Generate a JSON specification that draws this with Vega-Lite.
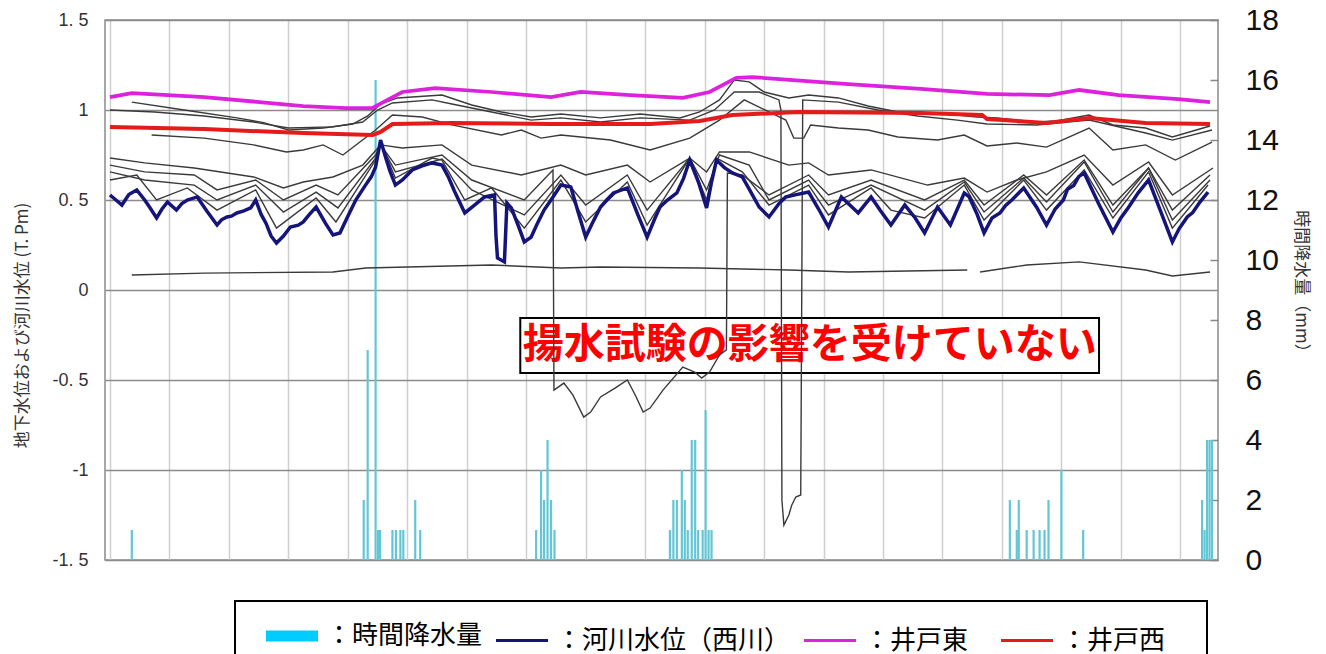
{
  "$schema": "https://vega.github.io/schema/vega-lite/v6.json",
  "width": 1113,
  "height": 540,
  "autosize": {"type": "none"},
  "padding": {"left": 105, "top": 20, "right": 108, "bottom": 94},
  "background": "white",
  "config": {"view": {"stroke": "#8a8a8a", "strokeWidth": 1.5}, "font": "Noto Sans CJK JP"},
  "datasets": {
    "rain": [
      {"t": 8.8, "mm": 1},
      {"t": 102.4, "mm": 2}, {"t": 104, "mm": 7}, {"t": 107.2, "mm": 16}, {"t": 108.2, "mm": 1}, {"t": 109, "mm": 1},
      {"t": 114, "mm": 1}, {"t": 115.4, "mm": 1}, {"t": 117.2, "mm": 1}, {"t": 118.4, "mm": 1}, {"t": 123.2, "mm": 2}, {"t": 125.2, "mm": 1},
      {"t": 172, "mm": 1}, {"t": 174, "mm": 3}, {"t": 175.2, "mm": 2}, {"t": 176.6, "mm": 4}, {"t": 178, "mm": 2}, {"t": 179.4, "mm": 1},
      {"t": 226, "mm": 1}, {"t": 227.4, "mm": 2}, {"t": 228.8, "mm": 2}, {"t": 230.8, "mm": 3}, {"t": 232, "mm": 2}, {"t": 233.2, "mm": 1},
      {"t": 234.8, "mm": 4}, {"t": 236.2, "mm": 4}, {"t": 237.4, "mm": 1}, {"t": 239.2, "mm": 1}, {"t": 240.4, "mm": 5}, {"t": 241.6, "mm": 1}, {"t": 242.8, "mm": 1},
      {"t": 363.2, "mm": 2}, {"t": 366, "mm": 1}, {"t": 366.8, "mm": 2}, {"t": 370, "mm": 1}, {"t": 372.8, "mm": 1}, {"t": 375.2, "mm": 1},
      {"t": 377.2, "mm": 1}, {"t": 378.8, "mm": 2}, {"t": 384, "mm": 3}, {"t": 392.8, "mm": 1},
      {"t": 440.8, "mm": 2}, {"t": 441.8, "mm": 1}, {"t": 442.8, "mm": 4}, {"t": 443.8, "mm": 4}, {"t": 444.8, "mm": 4}
    ],
    "main": [
      {"s": "河川水位（西川）", "t": 0, "v": 0.528}, {"s": "河川水位（西川）", "t": 2.4, "v": 0.5}, {"s": "河川水位（西川）", "t": 4.8, "v": 0.472}, {"s": "河川水位（西川）", "t": 7.6, "v": 0.53}, {"s": "河川水位（西川）", "t": 10.8, "v": 0.556},
      {"s": "河川水位（西川）", "t": 14, "v": 0.5}, {"s": "河川水位（西川）", "t": 16, "v": 0.46}, {"s": "河川水位（西川）", "t": 18.8, "v": 0.4}, {"s": "河川水位（西川）", "t": 21, "v": 0.45}, {"s": "河川水位（西川）", "t": 23.2, "v": 0.489},
      {"s": "河川水位（西川）", "t": 26.8, "v": 0.444}, {"s": "河川水位（西川）", "t": 29, "v": 0.48}, {"s": "河川水位（西川）", "t": 31.2, "v": 0.5}, {"s": "河川水位（西川）", "t": 35.2, "v": 0.517},
      {"s": "河川水位（西川）", "t": 39, "v": 0.44}, {"s": "河川水位（西川）", "t": 43.2, "v": 0.361}, {"s": "河川水位（西川）", "t": 45, "v": 0.39}, {"s": "河川水位（西川）", "t": 47.2, "v": 0.406},
      {"s": "河川水位（西川）", "t": 49, "v": 0.41}, {"s": "河川水位（西川）", "t": 51.2, "v": 0.428}, {"s": "河川水位（西川）", "t": 54, "v": 0.44}, {"s": "河川水位（西川）", "t": 56.8, "v": 0.456},
      {"s": "河川水位（西川）", "t": 58.8, "v": 0.5}, {"s": "河川水位（西川）", "t": 61, "v": 0.42}, {"s": "河川水位（西川）", "t": 63, "v": 0.37}, {"s": "河川水位（西川）", "t": 65, "v": 0.3}, {"s": "河川水位（西川）", "t": 67.2, "v": 0.261},
      {"s": "河川水位（西川）", "t": 70, "v": 0.3}, {"s": "河川水位（西川）", "t": 72.8, "v": 0.35}, {"s": "河川水位（西川）", "t": 76, "v": 0.36}, {"s": "河川水位（西川）", "t": 78, "v": 0.378},
      {"s": "河川水位（西川）", "t": 80.5, "v": 0.42}, {"s": "河川水位（西川）", "t": 83.2, "v": 0.461}, {"s": "河川水位（西川）", "t": 87, "v": 0.37}, {"s": "河川水位（西川）", "t": 90, "v": 0.306},
      {"s": "河川水位（西川）", "t": 92.8, "v": 0.317}, {"s": "河川水位（西川）", "t": 96, "v": 0.41}, {"s": "河川水位（西川）", "t": 99.2, "v": 0.5},
      {"s": "河川水位（西川）", "t": 103, "v": 0.58}, {"s": "河川水位（西川）", "t": 105.5, "v": 0.63}, {"s": "河川水位（西川）", "t": 107.2, "v": 0.683}, {"s": "河川水位（西川）", "t": 109.2, "v": 0.833},
      {"s": "河川水位（西川）", "t": 111.2, "v": 0.739}, {"s": "河川水位（西川）", "t": 113, "v": 0.66}, {"s": "河川水位（西川）", "t": 115.2, "v": 0.583}, {"s": "河川水位（西川）", "t": 118, "v": 0.611},
      {"s": "河川水位（西川）", "t": 122, "v": 0.667}, {"s": "河川水位（西川）", "t": 126, "v": 0.69}, {"s": "河川水位（西川）", "t": 130, "v": 0.706},
      {"s": "河川水位（西川）", "t": 134, "v": 0.694}, {"s": "河川水位（西川）", "t": 136.5, "v": 0.63}, {"s": "河川水位（西川）", "t": 139, "v": 0.55}, {"s": "河川水位（西川）", "t": 143.2, "v": 0.428},
      {"s": "河川水位（西川）", "t": 147, "v": 0.47}, {"s": "河川水位（西川）", "t": 151.2, "v": 0.517}, {"s": "河川水位（西川）", "t": 155.2, "v": 0.528},
      {"s": "河川水位（西川）", "t": 155.8, "v": 0.3}, {"s": "河川水位（西川）", "t": 156.4, "v": 0.178}, {"s": "河川水位（西川）", "t": 159.2, "v": 0.156},
      {"s": "河川水位（西川）", "t": 159.8, "v": 0.35}, {"s": "河川水位（西川）", "t": 160.2, "v": 0.483}, {"s": "河川水位（西川）", "t": 162, "v": 0.456},
      {"s": "河川水位（西川）", "t": 165, "v": 0.35}, {"s": "河川水位（西川）", "t": 167.2, "v": 0.267}, {"s": "河川水位（西川）", "t": 170, "v": 0.294},
      {"s": "河川水位（西川）", "t": 172.5, "v": 0.37}, {"s": "河川水位（西川）", "t": 175.2, "v": 0.444}, {"s": "河川水位（西川）", "t": 178, "v": 0.5}, {"s": "河川水位（西川）", "t": 182, "v": 0.583},
      {"s": "河川水位（西川）", "t": 186, "v": 0.572}, {"s": "河川水位（西川）", "t": 189, "v": 0.43}, {"s": "河川水位（西川）", "t": 192, "v": 0.294},
      {"s": "河川水位（西川）", "t": 195, "v": 0.38}, {"s": "河川水位（西川）", "t": 198, "v": 0.461}, {"s": "河川水位（西川）", "t": 200.5, "v": 0.5}, {"s": "河川水位（西川）", "t": 203.2, "v": 0.539},
      {"s": "河川水位（西川）", "t": 208.8, "v": 0.567}, {"s": "河川水位（西川）", "t": 213, "v": 0.42}, {"s": "河川水位（西川）", "t": 216.8, "v": 0.294},
      {"s": "河川水位（西川）", "t": 220, "v": 0.4}, {"s": "河川水位（西川）", "t": 222, "v": 0.461}, {"s": "河川水位（西川）", "t": 225, "v": 0.5},
      {"s": "河川水位（西川）", "t": 228.8, "v": 0.539}, {"s": "河川水位（西川）", "t": 231.5, "v": 0.62}, {"s": "河川水位（西川）", "t": 234, "v": 0.722}, {"s": "河川水位（西川）", "t": 237.5, "v": 0.6},
      {"s": "河川水位（西川）", "t": 240.8, "v": 0.456}, {"s": "河川水位（西川）", "t": 242.8, "v": 0.6}, {"s": "河川水位（西川）", "t": 244.8, "v": 0.722}, {"s": "河川水位（西川）", "t": 248, "v": 0.68}, {"s": "河川水位（西川）", "t": 251.2, "v": 0.65},
      {"s": "河川水位（西川）", "t": 255.2, "v": 0.628}, {"s": "河川水位（西川）", "t": 258, "v": 0.56}, {"s": "河川水位（西川）", "t": 262, "v": 0.461},
      {"s": "河川水位（西川）", "t": 266, "v": 0.406}, {"s": "河川水位（西川）", "t": 270, "v": 0.48}, {"s": "河川水位（西川）", "t": 272.8, "v": 0.517},
      {"s": "河川水位（西川）", "t": 277, "v": 0.53}, {"s": "河川水位（西川）", "t": 282, "v": 0.544}, {"s": "河川水位（西川）", "t": 286, "v": 0.45}, {"s": "河川水位（西川）", "t": 290, "v": 0.35},
      {"s": "河川水位（西川）", "t": 295.2, "v": 0.517}, {"s": "河川水位（西川）", "t": 302, "v": 0.428}, {"s": "河川水位（西川）", "t": 307.2, "v": 0.517},
      {"s": "河川水位（西川）", "t": 311, "v": 0.44}, {"s": "河川水位（西川）", "t": 315.2, "v": 0.361}, {"s": "河川水位（西川）", "t": 320.8, "v": 0.472},
      {"s": "河川水位（西川）", "t": 325, "v": 0.4}, {"s": "河川水位（西川）", "t": 328.8, "v": 0.317}, {"s": "河川水位（西川）", "t": 334, "v": 0.461},
      {"s": "河川水位（西川）", "t": 339.2, "v": 0.361}, {"s": "河川水位（西川）", "t": 344.8, "v": 0.539}, {"s": "河川水位（西川）", "t": 346.8, "v": 0.517},
      {"s": "河川水位（西川）", "t": 350, "v": 0.42}, {"s": "河川水位（西川）", "t": 352.8, "v": 0.317}, {"s": "河川水位（西川）", "t": 356, "v": 0.4}, {"s": "河川水位（西川）", "t": 359.2, "v": 0.428},
      {"s": "河川水位（西川）", "t": 361.5, "v": 0.47}, {"s": "河川水位（西川）", "t": 364, "v": 0.5}, {"s": "河川水位（西川）", "t": 368.8, "v": 0.567}, {"s": "河川水位（西川）", "t": 374, "v": 0.46},
      {"s": "河川水位（西川）", "t": 378, "v": 0.361}, {"s": "河川水位（西川）", "t": 381.5, "v": 0.45}, {"s": "河川水位（西川）", "t": 384.8, "v": 0.5}, {"s": "河川水位（西川）", "t": 386.5, "v": 0.56}, {"s": "河川水位（西川）", "t": 389, "v": 0.58},
      {"s": "河川水位（西川）", "t": 391, "v": 0.63}, {"s": "河川水位（西川）", "t": 393.2, "v": 0.65}, {"s": "河川水位（西川）", "t": 399, "v": 0.48}, {"s": "河川水位（西川）", "t": 404.8, "v": 0.322},
      {"s": "河川水位（西川）", "t": 408, "v": 0.4}, {"s": "河川水位（西川）", "t": 411.2, "v": 0.461}, {"s": "河川水位（西川）", "t": 415, "v": 0.54}, {"s": "河川水位（西川）", "t": 419.2, "v": 0.611},
      {"s": "河川水位（西川）", "t": 424, "v": 0.44}, {"s": "河川水位（西川）", "t": 428.8, "v": 0.267}, {"s": "河川水位（西川）", "t": 431.5, "v": 0.34}, {"s": "河川水位（西川）", "t": 434.8, "v": 0.406},
      {"s": "河川水位（西川）", "t": 437, "v": 0.43}, {"s": "河川水位（西川）", "t": 440, "v": 0.49}, {"s": "河川水位（西川）", "t": 443.2, "v": 0.544},

      {"s": "井戸東", "t": 0, "v": 1.072}, {"s": "井戸東", "t": 8.8, "v": 1.094}, {"s": "井戸東", "t": 38, "v": 1.072},
      {"s": "井戸東", "t": 78, "v": 1.022}, {"s": "井戸東", "t": 95.2, "v": 1.011}, {"s": "井戸東", "t": 106, "v": 1.011},
      {"s": "井戸東", "t": 112, "v": 1.056}, {"s": "井戸東", "t": 118, "v": 1.1}, {"s": "井戸東", "t": 131.2, "v": 1.122},
      {"s": "井戸東", "t": 154, "v": 1.1}, {"s": "井戸東", "t": 178, "v": 1.072}, {"s": "井戸東", "t": 190, "v": 1.1},
      {"s": "井戸東", "t": 210, "v": 1.083}, {"s": "井戸東", "t": 231.2, "v": 1.067}, {"s": "井戸東", "t": 242, "v": 1.1},
      {"s": "井戸東", "t": 252.8, "v": 1.178}, {"s": "井戸東", "t": 259.2, "v": 1.183}, {"s": "井戸東", "t": 298, "v": 1.144},
      {"s": "井戸東", "t": 327.2, "v": 1.117}, {"s": "井戸東", "t": 354, "v": 1.089}, {"s": "井戸東", "t": 379.2, "v": 1.083},
      {"s": "井戸東", "t": 391.2, "v": 1.111}, {"s": "井戸東", "t": 407.2, "v": 1.083}, {"s": "井戸東", "t": 431.2, "v": 1.061},
      {"s": "井戸東", "t": 444, "v": 1.044},

      {"s": "井戸西", "t": 0, "v": 0.906}, {"s": "井戸西", "t": 38, "v": 0.894}, {"s": "井戸西", "t": 78, "v": 0.872},
      {"s": "井戸西", "t": 106, "v": 0.861}, {"s": "井戸西", "t": 109.2, "v": 0.878}, {"s": "井戸西", "t": 114, "v": 0.922},
      {"s": "井戸西", "t": 138, "v": 0.928}, {"s": "井戸西", "t": 178, "v": 0.922}, {"s": "井戸西", "t": 218, "v": 0.922},
      {"s": "井戸西", "t": 238, "v": 0.939}, {"s": "井戸西", "t": 251.2, "v": 0.972}, {"s": "井戸西", "t": 278, "v": 0.989},
      {"s": "井戸西", "t": 327.2, "v": 0.983}, {"s": "井戸西", "t": 352, "v": 0.972}, {"s": "井戸西", "t": 354, "v": 0.95},
      {"s": "井戸西", "t": 378, "v": 0.928}, {"s": "井戸西", "t": 395.2, "v": 0.956}, {"s": "井戸西", "t": 418, "v": 0.928},
      {"s": "井戸西", "t": 444, "v": 0.922}
    ],
    "wells": [
      {"id": "U1", "t": 8.8, "v": 1.044}, {"id": "U1", "t": 30, "v": 1.0}, {"id": "U1", "t": 51.2, "v": 0.956}, {"id": "U1", "t": 62, "v": 0.93}, {"id": "U1", "t": 72, "v": 0.889},
      {"id": "U1", "t": 86, "v": 0.9}, {"id": "U1", "t": 98, "v": 0.922}, {"id": "U1", "t": 104, "v": 0.967}, {"id": "U1", "t": 109.2, "v": 1.033},
      {"id": "U1", "t": 116, "v": 1.067}, {"id": "U1", "t": 134, "v": 1.083}, {"id": "U1", "t": 146, "v": 1.028}, {"id": "U1", "t": 158, "v": 0.989},
      {"id": "U1", "t": 170, "v": 0.961}, {"id": "U1", "t": 182, "v": 0.978}, {"id": "U1", "t": 198, "v": 0.956}, {"id": "U1", "t": 214, "v": 0.978},
      {"id": "U1", "t": 230, "v": 0.956}, {"id": "U1", "t": 238, "v": 0.989}, {"id": "U1", "t": 246, "v": 1.056}, {"id": "U1", "t": 252, "v": 1.167},
      {"id": "U1", "t": 258, "v": 1.156}, {"id": "U1", "t": 264, "v": 1.1}, {"id": "U1", "t": 274, "v": 1.067}, {"id": "U1", "t": 282, "v": 1.083},
      {"id": "U1", "t": 294, "v": 1.067}, {"id": "U1", "t": 306, "v": 1.022}, {"id": "U1", "t": 318, "v": 0.989}, {"id": "U1", "t": 334, "v": 0.983},
      {"id": "U1", "t": 350, "v": 0.961}, {"id": "U1", "t": 358, "v": 0.956}, {"id": "U1", "t": 374, "v": 0.933}, {"id": "U1", "t": 382, "v": 0.939},
      {"id": "U1", "t": 395.2, "v": 0.972}, {"id": "U1", "t": 404.8, "v": 0.917}, {"id": "U1", "t": 418, "v": 0.9}, {"id": "U1", "t": 428.8, "v": 0.85},
      {"id": "U1", "t": 444, "v": 0.911},

      {"id": "U2", "t": 0, "v": 1.0}, {"id": "U2", "t": 18, "v": 0.989}, {"id": "U2", "t": 38, "v": 0.967}, {"id": "U2", "t": 58, "v": 0.933},
      {"id": "U2", "t": 72, "v": 0.9}, {"id": "U2", "t": 90, "v": 0.906}, {"id": "U2", "t": 102, "v": 0.933}, {"id": "U2", "t": 108, "v": 1.0},
      {"id": "U2", "t": 114, "v": 1.039}, {"id": "U2", "t": 130, "v": 1.056}, {"id": "U2", "t": 138, "v": 1.033}, {"id": "U2", "t": 154, "v": 0.989},
      {"id": "U2", "t": 170, "v": 0.944}, {"id": "U2", "t": 182, "v": 0.956}, {"id": "U2", "t": 198, "v": 0.933}, {"id": "U2", "t": 214, "v": 0.956},
      {"id": "U2", "t": 234, "v": 0.944}, {"id": "U2", "t": 244, "v": 1.0}, {"id": "U2", "t": 252, "v": 1.1}, {"id": "U2", "t": 262, "v": 1.1},
      {"id": "U2", "t": 270, "v": 1.056}, {"id": "U2", "t": 270.8, "v": 1.0}, {"id": "U2", "t": 271.2, "v": -1.167}, {"id": "U2", "t": 272, "v": -1.306},
      {"id": "U2", "t": 274, "v": -1.25}, {"id": "U2", "t": 275.2, "v": -1.194}, {"id": "U2", "t": 276.8, "v": -1.15}, {"id": "U2", "t": 278.8, "v": -1.139},
      {"id": "U2", "t": 279.6, "v": 1.056}, {"id": "U2", "t": 294, "v": 1.044}, {"id": "U2", "t": 310, "v": 1.0}, {"id": "U2", "t": 326, "v": 0.967},
      {"id": "U2", "t": 342, "v": 0.944}, {"id": "U2", "t": 354, "v": 0.922}, {"id": "U2", "t": 374, "v": 0.917}, {"id": "U2", "t": 395.2, "v": 0.944},
      {"id": "U2", "t": 418, "v": 0.872}, {"id": "U2", "t": 428.8, "v": 0.833}, {"id": "U2", "t": 444.8, "v": 0.889},

      {"id": "U3", "t": 16.8, "v": 0.861}, {"id": "U3", "t": 38, "v": 0.844}, {"id": "U3", "t": 58, "v": 0.806}, {"id": "U3", "t": 71.2, "v": 0.767},
      {"id": "U3", "t": 78, "v": 0.778}, {"id": "U3", "t": 86, "v": 0.806}, {"id": "U3", "t": 94, "v": 0.75}, {"id": "U3", "t": 107.2, "v": 0.889},
      {"id": "U3", "t": 114, "v": 0.972}, {"id": "U3", "t": 126, "v": 0.961}, {"id": "U3", "t": 138, "v": 0.917}, {"id": "U3", "t": 158, "v": 0.861},
      {"id": "U3", "t": 166, "v": 0.889}, {"id": "U3", "t": 174, "v": 0.844}, {"id": "U3", "t": 182, "v": 0.861}, {"id": "U3", "t": 202, "v": 0.833},
      {"id": "U3", "t": 218, "v": 0.778}, {"id": "U3", "t": 234, "v": 0.844}, {"id": "U3", "t": 246, "v": 0.944}, {"id": "U3", "t": 256, "v": 1.056},
      {"id": "U3", "t": 266, "v": 0.989}, {"id": "U3", "t": 272.8, "v": 0.944}, {"id": "U3", "t": 276, "v": 0.844}, {"id": "U3", "t": 280, "v": 0.844},
      {"id": "U3", "t": 282.8, "v": 0.917}, {"id": "U3", "t": 294, "v": 0.9}, {"id": "U3", "t": 306, "v": 0.889}, {"id": "U3", "t": 318, "v": 0.85},
      {"id": "U3", "t": 334, "v": 0.833}, {"id": "U3", "t": 344.8, "v": 0.861}, {"id": "U3", "t": 354, "v": 0.8}, {"id": "U3", "t": 366, "v": 0.817},
      {"id": "U3", "t": 378, "v": 0.794}, {"id": "U3", "t": 395.2, "v": 0.9}, {"id": "U3", "t": 404.8, "v": 0.778}, {"id": "U3", "t": 418, "v": 0.806},
      {"id": "U3", "t": 430, "v": 0.722}, {"id": "U3", "t": 444.8, "v": 0.822},

      {"id": "L1", "t": 0, "v": 0.733}, {"id": "L1", "t": 14, "v": 0.706}, {"id": "L1", "t": 34, "v": 0.678}, {"id": "L1", "t": 58, "v": 0.628},
      {"id": "L1", "t": 70, "v": 0.567}, {"id": "L1", "t": 78, "v": 0.6}, {"id": "L1", "t": 90, "v": 0.628}, {"id": "L1", "t": 102, "v": 0.694},
      {"id": "L1", "t": 109.2, "v": 0.806}, {"id": "L1", "t": 118, "v": 0.789}, {"id": "L1", "t": 134, "v": 0.806}, {"id": "L1", "t": 146, "v": 0.694},
      {"id": "L1", "t": 166, "v": 0.639}, {"id": "L1", "t": 182, "v": 0.694}, {"id": "L1", "t": 192, "v": 0.639}, {"id": "L1", "t": 208.8, "v": 0.694},
      {"id": "L1", "t": 218, "v": 0.6}, {"id": "L1", "t": 234, "v": 0.733}, {"id": "L1", "t": 240.8, "v": 0.656}, {"id": "L1", "t": 246, "v": 0.767},
      {"id": "L1", "t": 258, "v": 0.767}, {"id": "L1", "t": 274, "v": 0.694}, {"id": "L1", "t": 282, "v": 0.706}, {"id": "L1", "t": 290, "v": 0.639},
      {"id": "L1", "t": 307.2, "v": 0.667}, {"id": "L1", "t": 330, "v": 0.583}, {"id": "L1", "t": 344.8, "v": 0.622}, {"id": "L1", "t": 354, "v": 0.544},
      {"id": "L1", "t": 366, "v": 0.611}, {"id": "L1", "t": 378, "v": 0.656}, {"id": "L1", "t": 393.2, "v": 0.75}, {"id": "L1", "t": 404.8, "v": 0.583},
      {"id": "L1", "t": 419.2, "v": 0.711}, {"id": "L1", "t": 428.8, "v": 0.528}, {"id": "L1", "t": 445.2, "v": 0.678},

      {"id": "L2", "t": 0, "v": 0.694}, {"id": "L2", "t": 14, "v": 0.656}, {"id": "L2", "t": 34, "v": 0.639}, {"id": "L2", "t": 43.2, "v": 0.556},
      {"id": "L2", "t": 58.8, "v": 0.611}, {"id": "L2", "t": 70, "v": 0.5}, {"id": "L2", "t": 83.2, "v": 0.583}, {"id": "L2", "t": 92, "v": 0.528},
      {"id": "L2", "t": 107.2, "v": 0.75}, {"id": "L2", "t": 109.2, "v": 0.806}, {"id": "L2", "t": 115.2, "v": 0.694}, {"id": "L2", "t": 134, "v": 0.75},
      {"id": "L2", "t": 146, "v": 0.611}, {"id": "L2", "t": 167.2, "v": 0.5}, {"id": "L2", "t": 178.8, "v": 0.667}, {"id": "L2", "t": 179.2, "v": -0.556},
      {"id": "L2", "t": 183.2, "v": -0.517}, {"id": "L2", "t": 186.8, "v": -0.583}, {"id": "L2", "t": 191.2, "v": -0.706}, {"id": "L2", "t": 194, "v": -0.678},
      {"id": "L2", "t": 198, "v": -0.594}, {"id": "L2", "t": 204, "v": -0.544}, {"id": "L2", "t": 208.8, "v": -0.5}, {"id": "L2", "t": 212, "v": -0.583},
      {"id": "L2", "t": 215.2, "v": -0.678}, {"id": "L2", "t": 218, "v": -0.656}, {"id": "L2", "t": 223.2, "v": -0.556}, {"id": "L2", "t": 231.2, "v": -0.428},
      {"id": "L2", "t": 236, "v": -0.456}, {"id": "L2", "t": 238.8, "v": -0.489}, {"id": "L2", "t": 242, "v": -0.456}, {"id": "L2", "t": 246, "v": -0.361},
      {"id": "L2", "t": 248.8, "v": -0.333}, {"id": "L2", "t": 249.2, "v": 0.65}, {"id": "L2", "t": 255.2, "v": 0.639}, {"id": "L2", "t": 266, "v": 0.528},
      {"id": "L2", "t": 282, "v": 0.639}, {"id": "L2", "t": 290, "v": 0.528}, {"id": "L2", "t": 307.2, "v": 0.611}, {"id": "L2", "t": 328.8, "v": 0.5},
      {"id": "L2", "t": 344.8, "v": 0.611}, {"id": "L2", "t": 352.8, "v": 0.472}, {"id": "L2", "t": 368.8, "v": 0.639}, {"id": "L2", "t": 378, "v": 0.528},
      {"id": "L2", "t": 393.2, "v": 0.722}, {"id": "L2", "t": 404.8, "v": 0.472}, {"id": "L2", "t": 419.2, "v": 0.678}, {"id": "L2", "t": 428.8, "v": 0.444},
      {"id": "L2", "t": 444, "v": 0.639},

      {"id": "L3", "t": 0, "v": 0.656}, {"id": "L3", "t": 14, "v": 0.611}, {"id": "L3", "t": 34, "v": 0.583}, {"id": "L3", "t": 43.2, "v": 0.5},
      {"id": "L3", "t": 58.8, "v": 0.583}, {"id": "L3", "t": 70, "v": 0.433}, {"id": "L3", "t": 83.2, "v": 0.544}, {"id": "L3", "t": 92, "v": 0.456},
      {"id": "L3", "t": 107.2, "v": 0.733}, {"id": "L3", "t": 109.2, "v": 0.811}, {"id": "L3", "t": 115.2, "v": 0.656}, {"id": "L3", "t": 134, "v": 0.728},
      {"id": "L3", "t": 146, "v": 0.556}, {"id": "L3", "t": 167.2, "v": 0.417}, {"id": "L3", "t": 182, "v": 0.639}, {"id": "L3", "t": 192, "v": 0.472},
      {"id": "L3", "t": 208.8, "v": 0.639}, {"id": "L3", "t": 216.8, "v": 0.444}, {"id": "L3", "t": 234, "v": 0.733}, {"id": "L3", "t": 240.8, "v": 0.556},
      {"id": "L3", "t": 246, "v": 0.75}, {"id": "L3", "t": 258, "v": 0.694}, {"id": "L3", "t": 266, "v": 0.5}, {"id": "L3", "t": 282, "v": 0.611},
      {"id": "L3", "t": 290, "v": 0.472}, {"id": "L3", "t": 307.2, "v": 0.583}, {"id": "L3", "t": 328.8, "v": 0.444}, {"id": "L3", "t": 344.8, "v": 0.6},
      {"id": "L3", "t": 352.8, "v": 0.433}, {"id": "L3", "t": 368.8, "v": 0.622}, {"id": "L3", "t": 378, "v": 0.489}, {"id": "L3", "t": 393.2, "v": 0.711},
      {"id": "L3", "t": 404.8, "v": 0.433}, {"id": "L3", "t": 419.2, "v": 0.678}, {"id": "L3", "t": 428.8, "v": 0.389}, {"id": "L3", "t": 444, "v": 0.611},

      {"id": "L4", "t": 0, "v": 0.611}, {"id": "L4", "t": 10.8, "v": 0.639}, {"id": "L4", "t": 18.8, "v": 0.5}, {"id": "L4", "t": 31.2, "v": 0.567},
      {"id": "L4", "t": 43.2, "v": 0.444}, {"id": "L4", "t": 58.8, "v": 0.556}, {"id": "L4", "t": 67.2, "v": 0.344}, {"id": "L4", "t": 83.2, "v": 0.511},
      {"id": "L4", "t": 91.2, "v": 0.378}, {"id": "L4", "t": 107.2, "v": 0.722}, {"id": "L4", "t": 109.2, "v": 0.817}, {"id": "L4", "t": 115.2, "v": 0.622},
      {"id": "L4", "t": 130, "v": 0.733}, {"id": "L4", "t": 134, "v": 0.722}, {"id": "L4", "t": 143.2, "v": 0.5}, {"id": "L4", "t": 154, "v": 0.567},
      {"id": "L4", "t": 167.2, "v": 0.344}, {"id": "L4", "t": 182, "v": 0.611}, {"id": "L4", "t": 192, "v": 0.378}, {"id": "L4", "t": 208.8, "v": 0.6},
      {"id": "L4", "t": 216.8, "v": 0.361}, {"id": "L4", "t": 234, "v": 0.733}, {"id": "L4", "t": 240.8, "v": 0.5}, {"id": "L4", "t": 244.8, "v": 0.733},
      {"id": "L4", "t": 255.2, "v": 0.656}, {"id": "L4", "t": 266, "v": 0.472}, {"id": "L4", "t": 282, "v": 0.583}, {"id": "L4", "t": 290, "v": 0.417},
      {"id": "L4", "t": 307.2, "v": 0.567}, {"id": "L4", "t": 315.2, "v": 0.444}, {"id": "L4", "t": 328.8, "v": 0.4}, {"id": "L4", "t": 344.8, "v": 0.583},
      {"id": "L4", "t": 352.8, "v": 0.389}, {"id": "L4", "t": 368.8, "v": 0.611}, {"id": "L4", "t": 378, "v": 0.444}, {"id": "L4", "t": 393.2, "v": 0.667},
      {"id": "L4", "t": 404.8, "v": 0.4}, {"id": "L4", "t": 419.2, "v": 0.656}, {"id": "L4", "t": 428.8, "v": 0.344}, {"id": "L4", "t": 443.2, "v": 0.583},

      {"id": "F1", "t": 8.8, "v": 0.083}, {"id": "F1", "t": 38, "v": 0.094}, {"id": "F1", "t": 90, "v": 0.1}, {"id": "F1", "t": 103.2, "v": 0.122},
      {"id": "F1", "t": 154, "v": 0.139}, {"id": "F1", "t": 182, "v": 0.122}, {"id": "F1", "t": 198, "v": 0.128}, {"id": "F1", "t": 238, "v": 0.122},
      {"id": "F1", "t": 274, "v": 0.111}, {"id": "F1", "t": 298, "v": 0.1}, {"id": "F1", "t": 346, "v": 0.111},
      {"id": "F2", "t": 351.2, "v": 0.1}, {"id": "F2", "t": 370, "v": 0.139}, {"id": "F2", "t": 391.2, "v": 0.156}, {"id": "F2", "t": 418, "v": 0.111},
      {"id": "F2", "t": 428.8, "v": 0.078}, {"id": "F2", "t": 444, "v": 0.1}
    ]
  },
  "layer": [
    {
      "data": {"name": "rain"},
      "mark": {"type": "bar", "size": 2.2, "color": "#62c6d4"},
      "encoding": {
        "x": {"field": "t", "type": "quantitative", "scale": {"domain": [0, 445.2], "nice": false, "zero": false},
          "axis": {"orient": "bottom", "values": [0, 24, 48, 72, 96, 120, 144, 168, 192, 216, 240, 264, 288, 312, 336, 360, 384, 408, 432], "grid": true, "gridColor": "#cfcfcf", "gridWidth": 1.5, "labels": false, "ticks": false, "domain": false, "title": null}},
        "y": {"field": "mm", "type": "quantitative", "scale": {"domain": [0, 18], "nice": false},
          "axis": {"orient": "right", "values": [0, 2, 4, 6, 8, 10, 12, 14, 16, 18], "grid": false, "domain": false, "ticks": true, "tickSize": -8, "tickColor": "#888", "tickWidth": 1.5, "labelPadding": 35, "labelFont": "Liberation Sans Narrow, Liberation Sans", "labelFontSize": 30, "labelColor": "#111", "labelBaseline": "middle",
            "title": "時間降水量（mm）", "titleAngle": 90, "titleX": 82, "titleY": 265, "titleFontSize": 17, "titleFontWeight": "normal", "titleColor": "#333", "titleBaseline": "middle", "titleAlign": "center"}}
      }
    },
    {
      "layer": [
        {
          "data": {"values": [{}]},
          "mark": {"type": "rect", "fill": "white", "stroke": "black", "strokeWidth": 2},
          "encoding": {
            "x": {"datum": 165.6, "type": "quantitative"},
            "x2": {"datum": 399.2},
            "y": {"datum": -0.156, "type": "quantitative", "scale": {"domain": [-1.5, 1.5], "nice": false, "zero": false}},
            "y2": {"datum": -0.461}
          }
        },
        {
          "data": {"values": [{}]},
          "mark": {"type": "text", "text": "揚水試験の影響を受けていない", "font": "Noto Sans CJK JP", "fontSize": 41, "fontWeight": "bold", "color": "#ff0000", "align": "center", "baseline": "middle"},
          "encoding": {
            "x": {"datum": 282.4, "type": "quantitative"},
            "y": {"datum": -0.312, "type": "quantitative"}
          }
        },
        {
          "data": {"name": "wells"},
          "mark": {"type": "line", "color": "#3a3a3a", "strokeWidth": 1.4, "interpolate": "linear"},
          "encoding": {
            "x": {"field": "t", "type": "quantitative", "scale": {"domain": [0, 445.2], "nice": false, "zero": false},
              "axis": {"orient": "bottom", "values": [0, 24, 48, 72, 96, 120, 144, 168, 192, 216, 240, 264, 288, 312, 336, 360, 384, 408, 432], "grid": true, "gridColor": "#cfcfcf", "gridWidth": 1.5, "labels": false, "ticks": false, "domain": false, "title": null}},
            "y": {"field": "v", "type": "quantitative", "scale": {"domain": [-1.5, 1.5], "nice": false, "zero": false},
              "axis": {"orient": "left", "values": [-1.5, -1, -0.5, 0, 0.5, 1, 1.5], "grid": true, "gridColor": "#8c8c8c", "gridWidth": 1.5, "domain": false, "ticks": false, "labelPadding": 17, "labelFontSize": 18, "labelFont": "Liberation Sans", "labelColor": "#333",
                "labelExpr": "replace(replace(format(datum.value, '~g'), '.', '. '), '−', '-')",
                "title": "地下水位および河川水位 (T. Pm)", "titleX": -83, "titleY": 305, "titleAngle": -90, "titleBaseline": "middle", "titleAlign": "center", "titleFontSize": 17, "titleFontWeight": "normal", "titleColor": "#333"}},
            "detail": {"field": "id", "type": "nominal"}
          }
        },
        {
          "data": {"name": "main"},
          "mark": {"type": "line", "interpolate": "linear"},
          "encoding": {
            "x": {"field": "t", "type": "quantitative"},
            "y": {"field": "v", "type": "quantitative"},
            "color": {"field": "s", "type": "nominal",
              "scale": {"domain": ["時間降水量", "河川水位（西川）", "井戸東", "井戸西"], "range": ["#00ccff", "#14147a", "#dd22dd", "#e51a1a"]},
              "legend": {"orient": "none", "legendX": 130, "legendY": 581, "direction": "horizontal", "title": null, "symbolType": "stroke", "symbolSize": 2704, "symbolStrokeWidth": 3, "symbolOffset": 22,
                "labelFont": "Noto Sans CJK JP", "labelFontSize": 26, "labelColor": "black", "labelLimit": 500, "labelOffset": 21, "columnPadding": 4, "padding": 22, "strokeColor": "black",
                "labelExpr": "datum.label == '井戸東' ? '：井戸東\u2800' : datum.label == '井戸西' ? '：井戸西\u2800' : '：' + datum.label",
                "encode": {"symbols": {"update": {"strokeWidth": {"signal": "datum.value == '時間降水量' ? 11 : 3"}}}, "legend": {"update": {"strokeWidth": {"value": 2}}}}}},
            "strokeWidth": {"field": "s", "type": "nominal", "scale": {"domain": ["河川水位（西川）", "井戸東", "井戸西"], "range": [3.5, 4, 4]}, "legend": null}
          }
        }
      ]
    }
  ],
  "resolve": {"scale": {"y": "independent"}}
}
